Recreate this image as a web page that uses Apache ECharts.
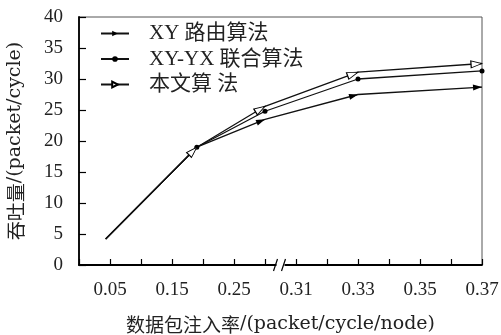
<!DOCTYPE html>
<html><head><meta charset="utf-8">
<script src="https://cdn.jsdelivr.net/npm/echarts@6/dist/echarts.min.js"></script>
<style>html,body{margin:0;padding:0;background:#fff}#c{width:501px;height:335px}</style>
</head><body><div id="c"></div>
<script>
// ---- data ----
const seriesNames = ['XY 路由算法', 'XY-YX 联合算法', '本文算 法'];
const injectionRates = [0.043, 0.19, 0.30, 0.33, 0.37];
const xyThroughput = [4.2, 19.0, 23.5, 27.5, 28.7];
const xyyxThroughput = [4.2, 19.0, 24.8, 30.0, 31.3];
const proposedThroughput = [4.2, 19.0, 25.6, 31.1, 32.5];
const xTickLabels = ['0.05', '0.15', '0.25', '0.31', '0.33', '0.35', '0.37'];
const breakBetween = [0.30, 0.31];
const xTitleCJK = '数据包注入率', xTitleUnit = '/(packet/cycle/node)';
const yTitleCJK = '吞吐量', yTitleUnit = '/(packet/cycle)';

// broken x axis: left part 0.05 per step, right part 0.01 per step
function toAxis(v) { return v <= breakBetween[0] ? v / 0.05 : 7 + (v - 0.31) / 0.01; }
function fromAxis(p) { return p <= 6 ? p * 0.05 : 0.31 + (p - 7) * 0.01; }
const breakPos = (toAxis(breakBetween[0]) + toAxis(breakBetween[1])) / 2;

const FONT = '"Liberation Serif", "Noto Sans CJK SC", serif';
const chart = echarts.init(document.getElementById('c'));

const titleRich = {
  c: { fontSize: 19, fontFamily: '"Noto Sans CJK SC", sans-serif', color: '#222' },
  l: { fontSize: 19, fontFamily: '"DejaVu Serif", "Liberation Serif", serif', color: '#222' }
};

const defs = [
  { name: seriesNames[0], values: xyThroughput, symbol: 'triangle', size: [6, 9], tri: true,
    itemStyle: { color: '#000' } },
  { name: seriesNames[1], values: xyyxThroughput, symbol: 'circle', size: 5, tri: false,
    itemStyle: { color: '#000' } },
  { name: seriesNames[2], values: proposedThroughput, symbol: 'triangle', size: [7, 11], tri: true,
    itemStyle: { color: '#fff', borderColor: '#000', borderWidth: 1 } }
];

function baseData(d) {
  return d.values.map((v, i) => {
    const item = { value: [toAxis(injectionRates[i]), v] };
    if (i === 0) item.symbol = 'none';
    return item;
  });
}

const option = {
  animation: false,
  backgroundColor: '#fff',
  grid: { left: 79, right: 19, top: 17, bottom: 70, show: true, borderColor: '#555', borderWidth: 1,
          containLabel: false, outerBoundsMode: 'none' },
  legend: {
    orient: 'vertical', left: 95, top: 18, itemWidth: 28, itemHeight: 7, itemGap: 4.5,
    data: seriesNames,
    textStyle: { fontSize: 21, fontFamily: FONT, color: '#222', padding: [0, 0, 0, 15] }
  },
  xAxis: {
    type: 'value', min: 0, max: 13, interval: 1,
    name: '{c|' + xTitleCJK + '}{l|' + xTitleUnit + '}', nameLocation: 'middle', nameGap: 50,
    nameTextStyle: { rich: titleRich },
    axisLine: { lineStyle: { color: '#000', width: 1.8 } },
    axisTick: { inside: true, length: 6, lineStyle: { color: '#000', width: 1.2 } },
    splitLine: { show: false },
    axisLabel: {
      margin: 16, fontSize: 19, fontFamily: FONT, color: '#222',
      formatter: p => {
        const s = fromAxis(p).toFixed(2);
        return (p % 2 === 1 && xTickLabels.indexOf(s) >= 0) ? s : '';
      }
    }
  },
  yAxis: {
    type: 'value', min: 0, max: 40, interval: 5,
    name: '{c|' + yTitleCJK + '}{l|' + yTitleUnit + '}', nameLocation: 'middle', nameGap: 54,
    nameTextStyle: { rich: titleRich },
    axisLine: { show: true, lineStyle: { color: '#000', width: 1.8 } },
    axisTick: { show: true, inside: true, length: 7, lineStyle: { color: '#000', width: 1.2 } },
    splitLine: { show: false },
    axisLabel: { margin: 16, fontSize: 19, fontFamily: FONT, color: '#222' }
  },
  series: defs.map(d => ({
    type: 'line', name: d.name, data: baseData(d),
    symbol: d.symbol, symbolSize: d.size, symbolRotate: d.tri ? -90 : 0,
    showAllSymbol: true,
    lineStyle: { color: '#111', width: 1.3 },
    itemStyle: d.itemStyle,
    color: '#000', z: 3
  })).concat([{
    type: 'custom', silent: true, clip: false, z: 10,
    data: [[breakPos, 0]],
    renderItem: (params, api) => {
      const p = api.coord([api.value(0), api.value(1)]);
      return { type: 'group', children: [
        { type: 'rect', shape: { x: p[0] - 4, y: p[1] - 3, width: 8, height: 6 }, style: { fill: '#fff' } },
        { type: 'line', shape: { x1: p[0] - 7, y1: p[1] + 6, x2: p[0] - 3, y2: p[1] - 6 }, style: { stroke: '#000', lineWidth: 1.2 } },
        { type: 'line', shape: { x1: p[0] + 1, y1: p[1] + 6, x2: p[0] + 5, y2: p[1] - 6 }, style: { stroke: '#000', lineWidth: 1.2 } }
      ]};
    }
  }])
};
chart.setOption(option);

// orient arrow markers along the incoming segment, tip on the data point
const upd = defs.map(d => {
  const data = baseData(d);
  if (!d.tri) return { data };
  const px = data.map(it => chart.convertToPixel({ gridIndex: 0 }, it.value));
  data.forEach((it, i) => {
    if (i === 0) return;
    const dx = px[i][0] - px[i - 1][0], dy = px[i - 1][1] - px[i][1];
    const ang = Math.atan2(dy, dx);
    it.symbolRotate = -90 + ang * 180 / Math.PI;
    const L = d.size[1] / 2;
    it.symbolOffset = [-L * Math.cos(ang), L * Math.sin(ang)];
  });
  return { data };
});
chart.setOption({ series: upd });
</script></body></html>
